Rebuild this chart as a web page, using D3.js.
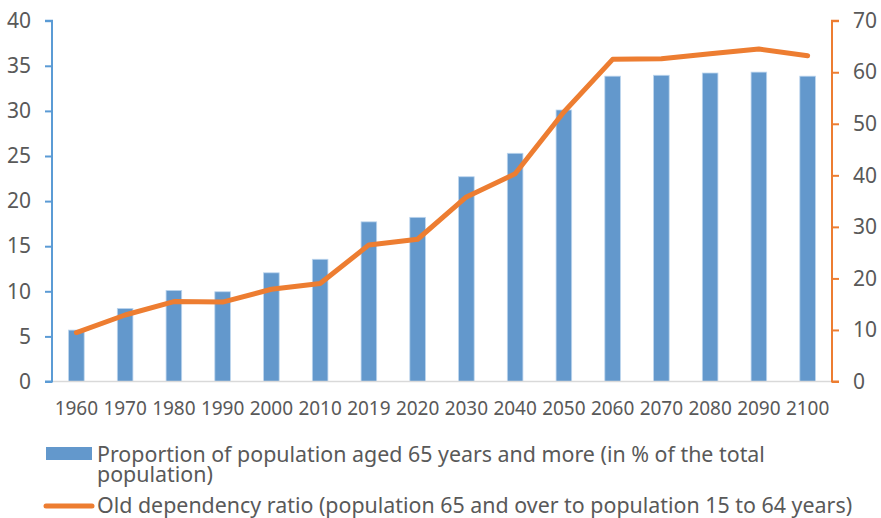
<!DOCTYPE html>
<html>
<head>
<meta charset="utf-8">
<script src="https://cdn.jsdelivr.net/npm/d3@7"></script>
<style>
  body { margin: 0; background: #fff; }
  text { font-family: "Noto Sans", sans-serif; fill: #595959; }
</style>
</head>
<body>
<svg id="chart" width="881" height="518"></svg>
<script>
// Years along the x axis
const years = ['1960', '1970', '1980', '1990', '2000', '2010', '2019', '2020',
  '2030', '2040', '2050', '2060', '2070', '2080', '2090', '2100'];
// Share of population 65+ (% of total), left axis
const share65 = [5.7, 8.1, 10.1, 9.95, 12.05, 13.55, 17.7, 18.2,
  22.7, 25.3, 30.1, 33.85, 33.95, 34.2, 34.3, 33.85];
// Old dependency ratio, right axis
const oldDep = [9.5, 12.9, 15.5, 15.4, 17.9, 19.0, 26.5, 27.6,
  35.8, 40.3, 52.3, 62.5, 62.6, 63.6, 64.5, 63.2];
const leftTicks = [0, 5, 10, 15, 20, 25, 30, 35, 40];
const rightTicks = [0, 10, 20, 30, 40, 50, 60, 70];
const legendLabels = [
  ['Proportion of population aged 65 years and more (in % of the total', 'population)'],
  ['Old dependency ratio (population 65 and over to population 15 to 64 years)'],
];

const d3 = window.d3;
const svg = d3.select('#chart');
const margin = {top: 20.7, left: 52, right: 832, bottom: 381.5};
const blue = '#6398cc';
const orange = '#ed7d31';

const x = d3.scaleBand()
    .domain(years)
    .range([margin.left, margin.right])
    .paddingInner(0.68)
    .paddingOuter(0.34);
const yL = d3.scaleLinear().domain([0, 40]).range([margin.bottom, margin.top]);
const yR = d3.scaleLinear().domain([0, 70]).range([margin.bottom, margin.top]);

// bars
svg.append('g')
    .selectAll('rect')
    .data(share65)
    .join('rect')
    .attr('x', (d, i) => x(years[i]))
    .attr('y', (d) => yL(d))
    .attr('width', x.bandwidth())
    .attr('height', (d) => yL(0) - yL(d))
    .attr('fill', blue)
    .attr('stroke', '#bcd5ee')
    .attr('stroke-width', 0.8);

// baseline
svg.append('line')
    .attr('x1', margin.left).attr('x2', margin.right)
    .attr('y1', yL(0)).attr('y2', yL(0))
    .attr('stroke', '#d9d9d9').attr('stroke-width', 1.5);

// left axis
const gL = svg.append('g').attr('transform', `translate(${margin.left},0)`)
    .call(d3.axisLeft(yL).tickValues(leftTicks).tickSize(7).tickPadding(14));
gL.selectAll('path, line').attr('stroke', '#5b9bd5').attr('stroke-width', 2);
gL.select('.domain').attr('d', `M-7,${yL(40)}H0V${yL(0)}H-7`);
gL.selectAll('text').attr('font-size', 21).attr('font-family', null)
    .attr('fill', '#595959');

// right axis
const gR = svg.append('g').attr('transform', `translate(${margin.right},0)`)
    .call(d3.axisRight(yR).tickValues(rightTicks).tickSize(7).tickPadding(14));
gR.selectAll('path, line').attr('stroke', orange).attr('stroke-width', 2);
gR.select('.domain').attr('d', `M7,${yR(70)}H0V${yR(0)}H7`);
gR.selectAll('text').attr('font-size', 21).attr('font-family', null)
    .attr('fill', '#595959');

// x labels
svg.append('g')
    .selectAll('text')
    .data(years)
    .join('text')
    .attr('x', (d) => x(d) + x.bandwidth() / 2)
    .attr('y', 410)
    .attr('text-anchor', 'middle')
    .attr('dominant-baseline', 'middle')
    .attr('font-size', 19)
    .text((d) => d);

// line
const line = d3.line()
    .x((d, i) => x(years[i]) + x.bandwidth() / 2)
    .y((d) => yR(d));
svg.append('path')
    .datum(oldDep)
    .attr('d', line)
    .attr('fill', 'none')
    .attr('stroke', orange)
    .attr('stroke-width', 5)
    .attr('stroke-linejoin', 'round')
    .attr('stroke-linecap', 'round');

// legend
const legend = svg.append('g');
legend.append('rect')
    .attr('x', 46).attr('y', 447).attr('width', 46).attr('height', 13)
    .attr('fill', blue);
legend.append('line')
    .attr('x1', 46).attr('x2', 92).attr('y1', 506).attr('y2', 506)
    .attr('stroke', orange).attr('stroke-width', 5)
    .attr('stroke-linecap', 'round');
const t1 = legend.append('text')
    .attr('x', 97).attr('y', 462)
    .attr('font-size', 21.4);
legendLabels[0].forEach((t, i) => {
  t1.append('tspan')
      .attr('x', 97)
      .attr('dy', i === 0 ? 0 : 20)
      .text(t);
});
legend.append('text')
    .attr('x', 97).attr('y', 513)
    .attr('font-size', 21.4)
    .text(legendLabels[1][0]);
</script>
</body>
</html>
